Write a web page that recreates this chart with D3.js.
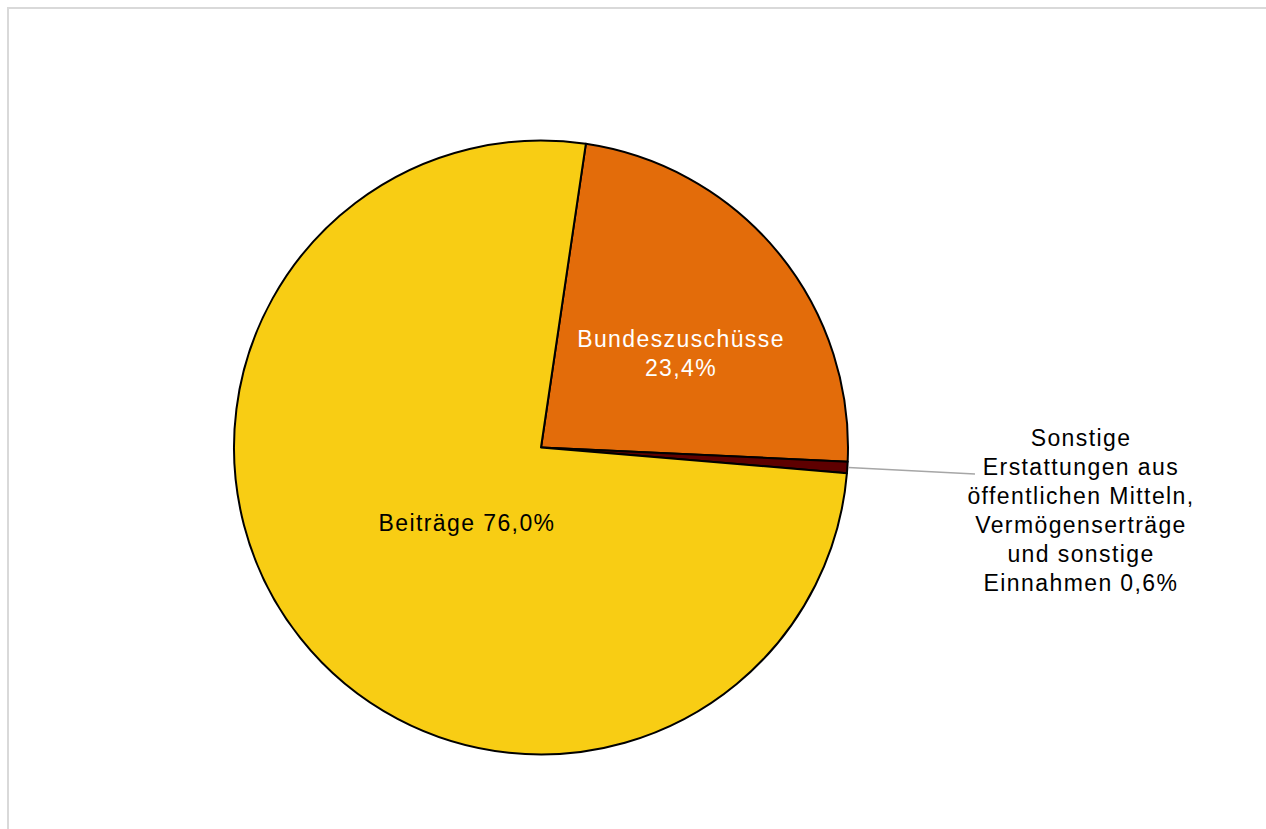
<!DOCTYPE html>
<html>
<head>
<meta charset="utf-8">
<script src="https://cdn.jsdelivr.net/npm/d3@7"></script>
<style>
  html, body { margin: 0; padding: 0; background: #fff; }
  svg { display: block; font-family: "Liberation Sans", Arial, sans-serif; }
</style>
</head>
<body>
<svg id="chart" width="1266" height="829"></svg>
<script>
// Einnahmen, Anteile in %
const categories = ["Bundeszuschüsse", "Sonstige", "Beiträge"];
const values = [23.4, 0.6, 76.0];
const colors = ["#e36c0a", "#5e0000", "#f8cd14"];

const width = 1266;
const height = 829;
const cx = 541, cy = 447.5, radius = 307;
const startDeg = 8.4;

var svg = d3.select("#chart");

// light frame around chart area
svg.append("rect")
  .attr("x", 8).attr("y", 8)
  .attr("width", width + 10).attr("height", height + 10)
  .attr("fill", "none")
  .attr("stroke", "#d9d9d9")
  .attr("stroke-width", 2);

var g = svg.append("g").attr("transform", `translate(${cx},${cy})`);

var pie = d3.pie()
  .sort(null)
  .value(d => d)
  .startAngle(startDeg * Math.PI / 180)
  .endAngle((startDeg + 360) * Math.PI / 180);

var arc = d3.arc().innerRadius(0).outerRadius(radius);
var arcs = pie(values);

g.selectAll("path")
  .data(arcs)
  .enter()
  .append("path")
  .attr("d", arc)
  .attr("fill", (d, i) => colors[i])
  .attr("stroke", "#000")
  .attr("stroke-width", 2)
  .attr("stroke-linejoin", "round");

// leader line for the small slice
var small = arcs[1];
var mid = (small.startAngle + small.endAngle) / 2;
var px = Math.sin(mid) * radius, py = -Math.cos(mid) * radius;
g.append("line")
  .attr("x1", px + 1).attr("y1", py)
  .attr("x2", 975 - cx).attr("y2", 474 - cy)
  .attr("stroke", "#a6a6a6")
  .attr("stroke-width", 1.5);

function fmt(v) { return d3.format(".1f")(v).replace(".", ",") + "%"; }

function label(lines, x, y, fill, lh) {
  var t = svg.append("text")
    .attr("text-anchor", "middle")
    .attr("font-size", "23px")
    .attr("letter-spacing", "1.4px")
    .attr("fill", fill);
  lines.forEach((s, i) => {
    t.append("tspan").attr("x", x).attr("y", y + i * lh).text(s);
  });
}

label([categories[0], fmt(values[0])], 681, 347, "#fff", 29);
label([categories[2] + " " + fmt(values[2])], 467, 531, "#000", 29);
label(["Sonstige", "Erstattungen aus", "öffentlichen Mitteln,", "Vermögenserträge", "und sonstige", "Einnahmen " + fmt(values[1])],
  1081, 446, "#000", 29);
</script>
</body>
</html>
